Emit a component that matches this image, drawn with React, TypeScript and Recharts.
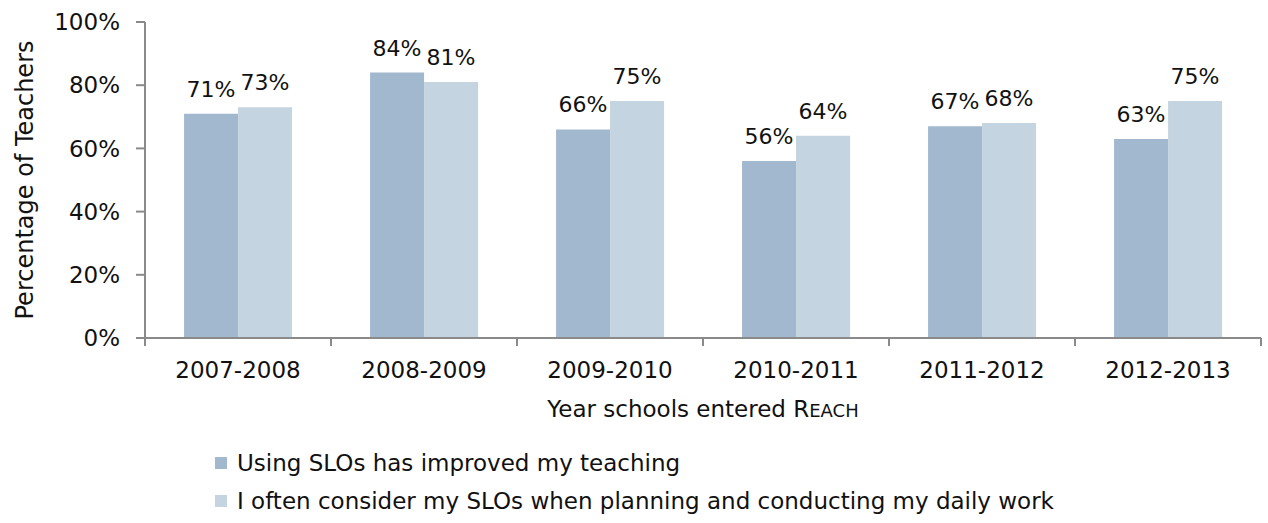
import React from 'react';
import { BarChart, Bar, XAxis, YAxis, Legend, LabelList, Label } from 'recharts';

const years = ['2007-2008', '2008-2009', '2009-2010', '2010-2011', '2011-2012', '2012-2013'];
const improvedTeaching = [71, 84, 66, 56, 67, 63];
const considerSLOs = [73, 81, 75, 64, 68, 75];
const yTicks = [0, 20, 40, 60, 80, 100];

const seriesNames = [
    'Using SLOs has improved my teaching',
    'I often consider my SLOs when planning and conducting my daily work',
];

const data = years.map((year, i) => ({
    year,
    improved: improvedTeaching[i],
    consider: considerSLOs[i],
}));

const W = 1268;
const H = 523;
const M = { top: 22, right: 7, left: 0, bottom: 0 };
const Y_AXIS_W = 145;
const BAND = (W - M.left - M.right - Y_AXIS_W) / years.length;
const FONT = '"DejaVu Sans", sans-serif';
const AXIS = '#8a8a8a';
const DARK = '#a2b8ce';
const LIGHT = '#c5d4e1';
const INK = '#111';

const YearTick = (props: any) => {
    const { x, y, payload, index } = props;
    const last = index === years.length - 1;
    return (
        <g>
            <line x1={x - BAND / 2} x2={x - BAND / 2} y1={y - 8} y2={y} stroke={AXIS} strokeWidth={2} />
            {last && <line x1={x + BAND / 2} x2={x + BAND / 2} y1={y - 8} y2={y} stroke={AXIS} strokeWidth={2} />}
            <text x={x} y={y + 32} textAnchor="middle" fontSize={23} fill={INK} fontFamily={FONT}>
                {payload.value}
            </text>
        </g>
    );
};

const renderLegend = () => (
    <div style={{ fontFamily: FONT, fontSize: 23, color: INK, whiteSpace: 'nowrap' }}>
        {seriesNames.map((name, i) => (
            <div key={name} style={{ display: 'flex', alignItems: 'center', height: 38 }}>
                <span style={{ width: 12, height: 12, background: i === 0 ? DARK : LIGHT, marginRight: 10, display: 'inline-block' }} />
                {name}
            </div>
        ))}
    </div>
);

const pct = (v: any) => `${v}%`;

const App: React.FC = () => {
    return (
        <div style={{ position: 'absolute', left: 0, top: 0, width: W, height: H, background: '#fff' }}>
            <BarChart width={W} height={H} data={data} margin={M} barCategoryGap="21%" barGap={0}>
                <YAxis
                    width={Y_AXIS_W}
                    domain={[0, 100]}
                    ticks={yTicks}
                    tickFormatter={pct}
                    stroke={AXIS}
                    strokeWidth={2}
                    tickSize={9}
                    tickMargin={16}
                    tick={{ fill: INK, fontSize: 23, fontFamily: FONT }}
                >
                    <Label
                        content={(p: any) => {
                            const vb = p.viewBox;
                            const cy = vb.y + vb.height / 2;
                            return (
                                <text x={33} y={cy} transform={`rotate(-90, 33, ${cy})`} textAnchor="middle" fontSize={24} fontFamily={FONT} fill={INK}>
                                    Percentage of Teachers
                                </text>
                            );
                        }}
                    />
                </YAxis>
                <XAxis
                    dataKey="year"
                    stroke={AXIS}
                    strokeWidth={2}
                    tickLine={false}
                    tick={<YearTick />}
                    height={95}
                    interval={0}
                >
                    <Label
                        content={(p: any) => {
                            const vb = p.viewBox;
                            return (
                                <text x={vb.x + vb.width / 2} y={vb.y + 79} textAnchor="middle" fontSize={23} fontFamily={FONT} fill={INK}>
                                    Year schools entered R<tspan fontSize={18}>EACH</tspan>
                                </text>
                            );
                        }}
                    />
                </XAxis>
                <Legend
                    verticalAlign="bottom"
                    align="left"
                    height={90}
                    content={renderLegend}
                    wrapperStyle={{ top: 444, left: 215, bottom: 'auto', width: 'auto' }}
                />
                <Bar dataKey="improved" name={seriesNames[0]} fill={DARK} isAnimationActive={false}>
                    <LabelList dataKey="improved" position="top" offset={17} formatter={pct} style={{ fontSize: 22, fontFamily: FONT, fill: INK }} />
                </Bar>
                <Bar dataKey="consider" name={seriesNames[1]} fill={LIGHT} isAnimationActive={false}>
                    <LabelList dataKey="consider" position="top" offset={17} formatter={pct} style={{ fontSize: 22, fontFamily: FONT, fill: INK }} />
                </Bar>
            </BarChart>
        </div>
    );
};

export default App;
